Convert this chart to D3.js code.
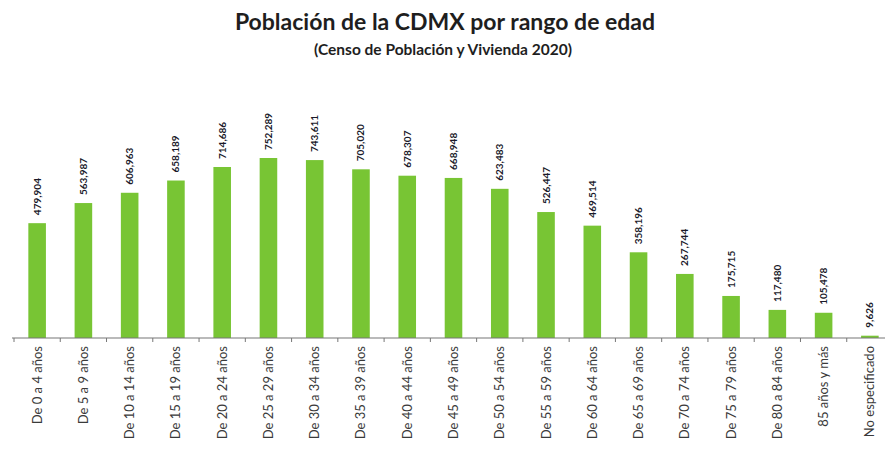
<!DOCTYPE html>
<html><head><meta charset="utf-8">
<script src="https://cdn.jsdelivr.net/npm/d3@7"></script>
<style>body{margin:0;background:#fff}svg{display:block}</style>
</head><body>
<script>
const categories = ["De 0 a 4 años","De 5 a 9 años","De 10 a 14 años","De 15 a 19 años","De 20 a 24 años","De 25 a 29 años","De 30 a 34 años","De 35 a 39 años","De 40 a 44 años","De 45 a 49 años","De 50 a 54 años","De 55 a 59 años","De 60 a 64 años","De 65 a 69 años","De 70 a 74 años","De 75 a 79 años","De 80 a 84 años","85 años y más","No especificado"];
const values = [479904,563987,606963,658189,714686,752289,743611,705020,678307,668948,623483,526447,469514,358196,267744,175715,117480,105478,9626];

const W = 885, H = 467;
const svg = d3.select("body").append("svg").attr("width", W).attr("height", H);
const font = "Lato, 'Open Sans', sans-serif";

const x = d3.scaleBand().domain(categories).range([14, 893]).paddingInner(0.62).paddingOuter(0.31);
const y = d3.scaleLinear().domain([0, 752289]).range([338, 158]);

svg.append("text").attr("x", 445).attr("y", 30).attr("text-anchor", "middle")
  .attr("font-family", font).attr("font-weight", "bold").attr("font-size", 23).attr("fill", "#1e1e1e")
  .text("Población de la CDMX por rango de edad");
svg.append("text").attr("x", 443).attr("y", 55).attr("text-anchor", "middle")
  .attr("font-family", font).attr("font-weight", "bold").attr("font-size", 15.5).attr("fill", "#1e1e1e")
  .text("(Censo de Población y Vivienda 2020)");

svg.selectAll("rect.bar").data(values).join("rect").attr("class", "bar")
  .attr("x", (d, i) => x(categories[i])).attr("width", x.bandwidth())
  .attr("y", d => y(d)).attr("height", d => y(0) - y(d)).attr("fill", "#78c534");

const fmt = d3.format(",");
svg.selectAll("text.val").data(values).join("text").attr("class", "val")
  .attr("transform", (d, i) => `translate(${x(categories[i]) + x.bandwidth() / 2 + 3.5},${y(d) - 8}) rotate(-90)`)
  .attr("font-family", font).attr("font-weight", "bold").attr("font-size", 10).attr("fill", "#1a1a2a")
  .text(d => fmt(d));

// axis
const step = x.step();
svg.append("line").attr("x1", 12).attr("x2", 885).attr("y1", y(0)).attr("y2", y(0))
  .attr("stroke", "#777").attr("stroke-width", 1.2);
svg.selectAll("line.tick").data(categories).join("line").attr("class", "tick")
  .attr("x1", d => x(d) - x.paddingInner() * step / 2)
  .attr("x2", d => x(d) - x.paddingInner() * step / 2)
  .attr("y1", y(0)).attr("y2", y(0) + 4).attr("stroke", "#777");

svg.selectAll("text.cat").data(categories).join("text").attr("class", "cat")
  .attr("transform", d => `translate(${x(d) + x.bandwidth() / 2 + 4.5},${y(0) + 8}) rotate(-90)`)
  .attr("text-anchor", "end").attr("font-family", font).attr("font-size", 13).attr("fill", "#3a3a3a")
  .text(d => d);
</script>
</body></html>
